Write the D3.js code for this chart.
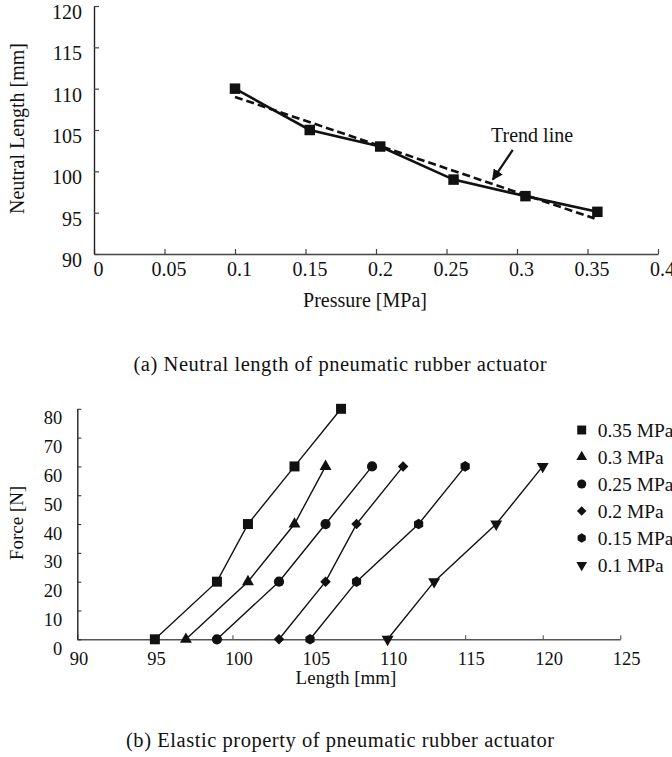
<!DOCTYPE html>
<html>
<head>
<meta charset="utf-8">
<script src="https://cdn.jsdelivr.net/npm/d3@7"></script>
<style>
  html, body { margin: 0; padding: 0; background: #fff; overflow: hidden; }
  svg { display: block; font-family: "Liberation Serif", "Times New Roman", serif; }
</style>
</head>
<body>
<svg id="chart" width="672" height="757"></svg>
<script>
// ---------- Data: (a) Neutral length ----------
const pressure = [0.1, 0.153, 0.203, 0.255, 0.306, 0.357];
const neutralLength = [110, 105, 103, 99, 97, 95.1];
const trendPressure = [0.1, 0.355];
const trendLength = [109.0, 94.3];
const topXTicks = [0, 0.05, 0.1, 0.15, 0.2, 0.25, 0.3, 0.35, 0.4];
const topXLabels = ["0", "0.05", "0.1", "0.15", "0.2", "0.25", "0.3", "0.35", "0.4"];
const topYTicks = [90, 95, 100, 105, 110, 115, 120];

// ---------- Data: (b) Elastic property ----------
const seriesNames = ["0.35 MPa", "0.3 MPa", "0.25 MPa", "0.2 MPa", "0.15 MPa", "0.1 MPa"];
const seriesSymbols = ["square", "triangle", "circle", "diamond", "hexagon", "triangleDown"];
const force = [0, 20, 40, 60, 80];
const len035 = [95, 99, 101, 104, 107];
const len030 = [97, 101, 104, 106];
const len025 = [99, 103, 106, 109];
const len020 = [103, 106, 108, 111];
const len015 = [105, 108, 112, 115];
const len010 = [110, 113, 117, 120];
const bottomXTicks = [90, 95, 100, 105, 110, 115, 120, 125];
const bottomYTicks = [0, 10, 20, 30, 40, 50, 60, 70, 80];

const svg = d3.select("#chart");
const FONT_DARK = "#111";
const SERIF = "Liberation Serif, Times New Roman, serif";

// ================= Chart (a) =================
const xA = d3.scaleLinear().domain([0, 0.4]).range([94, 658]);
const yA = d3.scaleLinear().domain([90, 120]).range([254, 6]);

const gA = svg.append("g");

const axA_x = gA.append("g").attr("transform", `translate(0,${yA(90)})`)
  .call(d3.axisBottom(xA).tickValues(topXTicks).tickFormat((d, i) => topXLabels[i])
    .tickSizeInner(-5).tickSizeOuter(0))
  .attr("font-family", SERIF);
axA_x.select(".domain").attr("stroke", "#444").attr("stroke-width", 1.4);
axA_x.selectAll(".tick line").attr("stroke", "#444").attr("stroke-width", 1.2);
axA_x.selectAll(".tick text").attr("y", 22).attr("dy", 0).attr("dx", 4)
  .attr("font-size", 20).attr("fill", FONT_DARK);

const axA_y = gA.append("g").attr("transform", `translate(${xA(0)},0)`)
  .call(d3.axisLeft(yA).tickValues(topYTicks).tickSizeInner(-5).tickSizeOuter(0))
  .attr("font-family", SERIF);
axA_y.select(".domain").attr("stroke", "#222").attr("stroke-width", 1.4);
axA_y.selectAll(".tick line").attr("stroke", "#444").attr("stroke-width", 1.2);
axA_y.selectAll(".tick text").attr("x", -12).attr("y", 12.6).attr("dy", 0)
  .attr("font-size", 20).attr("fill", FONT_DARK);

// trend line (dashed)
const trendPts = trendPressure.map((p, i) => [p, trendLength[i]]);
gA.append("path")
  .attr("d", d3.line().x(d => xA(d[0])).y(d => yA(d[1]))(trendPts))
  .attr("fill", "none").attr("stroke", "#111").attr("stroke-width", 2.6)
  .attr("stroke-dasharray", "8,4");

// measured line
const measPts = pressure.map((p, i) => [p, neutralLength[i]]);
gA.append("path")
  .attr("d", d3.line().x(d => xA(d[0])).y(d => yA(d[1]))(measPts))
  .attr("fill", "none").attr("stroke", "#111").attr("stroke-width", 2.6);

gA.selectAll("path.ptA").data(measPts).enter().append("path")
  .attr("class", "ptA")
  .attr("transform", d => `translate(${xA(d[0])},${yA(d[1])})`)
  .attr("d", d3.symbol(d3.symbolSquare, 110)())
  .attr("fill", "#111");

// annotation arrow "Trend line"
const defs = svg.append("defs");
defs.append("marker").attr("id", "arrowHead")
  .attr("viewBox", "0 0 10 10").attr("refX", 9).attr("refY", 5)
  .attr("markerWidth", 5).attr("markerHeight", 5).attr("markerUnits", "strokeWidth")
  .attr("orient", "auto")
  .append("path").attr("d", "M0,0 L10,5 L0,10 z").attr("fill", "#111");

const arrowFrom = [0.297, 102.6];
const arrowTo = [0.2828, 99.0];
gA.append("line")
  .attr("x1", xA(arrowFrom[0])).attr("y1", yA(arrowFrom[1]))
  .attr("x2", xA(arrowTo[0])).attr("y2", yA(arrowTo[1]))
  .attr("stroke", "#111").attr("stroke-width", 2.2)
  .attr("marker-end", "url(#arrowHead)");

gA.append("text").attr("x", xA(0.3107)).attr("y", yA(103.55))
  .attr("text-anchor", "middle").attr("font-size", 20).attr("fill", FONT_DARK)
  .text("Trend line");

// axis titles
gA.append("text").attr("x", 365).attr("y", 306.5).attr("text-anchor", "middle")
  .attr("font-size", 20).attr("fill", FONT_DARK).text("Pressure [MPa]");
gA.append("text").attr("transform", "translate(24,128.5) rotate(-90)")
  .attr("text-anchor", "middle").attr("font-size", 20).attr("fill", FONT_DARK)
  .text("Neutral Length [mm]");

// caption
svg.append("text").attr("x", 340).attr("y", 371).attr("text-anchor", "middle")
  .attr("font-size", 20.5).attr("fill", FONT_DARK)
  .attr("textLength", 413).attr("lengthAdjust", "spacing")
  .text("(a) Neutral length of pneumatic rubber actuator");

// ================= Chart (b) =================
const xB = d3.scaleLinear().domain([90, 125]).range([77.3, 620.3]);
const yB = d3.scaleLinear().domain([0, 80]).range([639.3, 408.8]);
const gB = svg.append("g");

const axB_x = gB.append("g").attr("transform", `translate(0,${yB(0)})`)
  .call(d3.axisBottom(xB).tickValues(bottomXTicks).tickSizeInner(-4).tickSizeOuter(0))
  .attr("font-family", SERIF);
axB_x.select(".domain").attr("stroke", "#555").attr("stroke-width", 1.6);
axB_x.selectAll(".tick line").attr("stroke", "#555").attr("stroke-width", 1.1);
axB_x.selectAll(".tick text").attr("x", -8).attr("y", 25.7).attr("dy", 0)
  .attr("text-anchor", "start")
  .attr("font-size", 18.5).attr("fill", FONT_DARK);

const axB_y = gB.append("g").attr("transform", `translate(${xB(90)},0)`)
  .call(d3.axisLeft(yB).tickValues(bottomYTicks).tickSizeInner(-4).tickSizeOuter(0))
  .attr("font-family", SERIF);
axB_y.select(".domain").attr("stroke", "#222").attr("stroke-width", 1.4);
axB_y.selectAll(".tick line").attr("stroke", "#333").attr("stroke-width", 1.1);
axB_y.selectAll(".tick text").attr("x", -15).attr("y", 15).attr("dy", 0)
  .attr("font-size", 18.5).attr("fill", FONT_DARK);

// symbol helper
function symbolPath(kind, scale) {
  const s = scale || 1;
  if (kind === "square") return d3.symbol(d3.symbolSquare, 100 * s)();
  if (kind === "triangle") return d3.symbol(d3.symbolTriangle, 62 * s)();
  if (kind === "triangleDown") return d3.symbol(d3.symbolTriangle, 62 * s)();
  if (kind === "circle") return d3.symbol(d3.symbolCircle, 82 * s)();
  if (kind === "diamond") return d3.symbol(d3.symbolSquare, 56 * s)();
  if (kind === "hexagon") {
    const r = 5.3 * Math.sqrt(s);
    const pts = d3.range(6).map(k => {
      const a = Math.PI / 6 + k * Math.PI / 3;
      return [r * Math.cos(a), r * Math.sin(a)];
    });
    return "M" + pts.map(p => p.join(",")).join("L") + "Z";
  }
}
function symbolRot(kind) {
  if (kind === "triangleDown") return " rotate(180)";
  if (kind === "diamond") return " rotate(45)";
  return "";
}

const lengthsBySeries = [len035, len030, len025, len020, len015, len010];
lengthsBySeries.forEach((lens, si) => {
  const pts = lens.map((l, i) => [l, force[i]]);
  gB.append("path")
    .attr("d", d3.line().x(d => xB(d[0])).y(d => yB(d[1]))(pts))
    .attr("fill", "none").attr("stroke", "#111").attr("stroke-width", 1.4);
  const kind = seriesSymbols[si];
  gB.selectAll(null).data(pts).enter().append("path")
    .attr("transform", d => `translate(${xB(d[0])},${yB(d[1])})` + symbolRot(kind))
    .attr("d", symbolPath(kind))
    .attr("fill", "#111");
});

// legend
const legendX = 581.7, legendTextX = 597.7, legendY0 = 430, legendStep = 27;
const leg = gB.append("g");
seriesNames.forEach((name, i) => {
  const kind = seriesSymbols[i];
  const cy = legendY0 + i * legendStep;
  leg.append("path")
    .attr("transform", `translate(${legendX},${cy})` + symbolRot(kind))
    .attr("d", symbolPath(kind, 0.8)).attr("fill", "#111");
  leg.append("text").attr("x", legendTextX).attr("y", cy + 6.7)
    .attr("font-size", 19.5).attr("fill", FONT_DARK).text(name);
});

// axis titles
gB.append("text").attr("x", 346).attr("y", 684).attr("text-anchor", "middle")
  .attr("font-size", 19).attr("fill", FONT_DARK).text("Length [mm]");
gB.append("text").attr("transform", "translate(23,523) rotate(-90)")
  .attr("text-anchor", "middle").attr("font-size", 19).attr("fill", FONT_DARK)
  .text("Force [N]");

// caption
svg.append("text").attr("x", 340).attr("y", 747).attr("text-anchor", "middle")
  .attr("font-size", 20.5).attr("fill", FONT_DARK)
  .attr("textLength", 428).attr("lengthAdjust", "spacing")
  .text("(b) Elastic property of pneumatic rubber actuator");
</script>
</body>
</html>
